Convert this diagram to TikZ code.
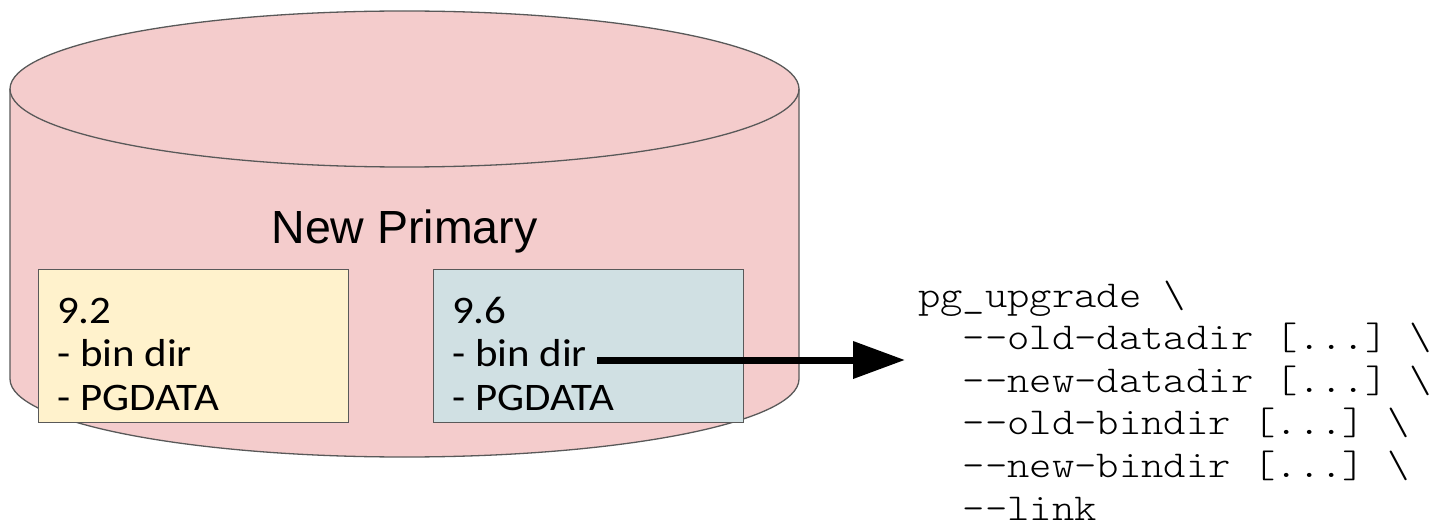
\documentclass[tikz,border=0pt]{standalone}
\usepackage{fontspec}
\setmainfont{Carlito}[FakeStretch=1.1]
\newfontfamily\headfont{Liberation Sans}
\newfontfamily\codefont{lmmonolt10-regular.otf}[FakeStretch=1.12]
\usetikzlibrary{arrows.meta}

\definecolor{drumfill}{HTML}{F4CCCC}
\definecolor{edgegray}{HTML}{595959}
\definecolor{oldfill}{HTML}{FFF2CC}
\definecolor{newfill}{HTML}{D0E0E3}

\tikzset{
  drumline/.style={draw=edgegray, line width=1.3pt},
  verbox/.style={draw=edgegray, line width=1.3pt, anchor=north west,
    minimum width=310pt, minimum height=153pt, inner sep=0pt},
  % multi-line nodes: the base anchor sits on the last line
  boxtext/.style={anchor=base west, inner sep=0pt, align=left,
    font=\fontsize{39}{43.5}\selectfont},
  headtext/.style={anchor=base, inner sep=0pt,
    font=\headfont\fontsize{46.5}{50}\selectfont},
  codetext/.style={anchor=base west, inner sep=0pt, align=left,
    font=\codefont\fontsize{38}{42.6}\selectfont\frenchspacing},
  flow/.style={line width=7pt, -{Triangle[length=52pt,width=36pt]}}
}

\begin{document}
\begin{tikzpicture}[x=1pt, y=-1pt]
  \useasboundingbox (0,0) rectangle (1433,532);

  % database drum
  \fill[drumfill] (10,89) -- (10,379)
    arc[start angle=180, end angle=360, x radius=394.5pt, y radius=78pt]
    -- (799,89)
    arc[start angle=0, end angle=180, x radius=394.5pt, y radius=78pt] -- cycle;
  \draw[drumline] (10,89) -- (10,379)
    arc[start angle=180, end angle=360, x radius=394.5pt, y radius=78pt]
    -- (799,89);
  \draw[drumline] (404.5,89) ellipse [x radius=394.5pt, y radius=78pt];

  \node[headtext] (title) at (404.5,243) {New Primary};

  % old and new installations
  \node[verbox, fill=oldfill] (oldver) at (37.5,269) {};
  \node[verbox, fill=newfill] (newver) at (432.5,269) {};
  \node[boxtext] (oldtxt) at (57,410) {9.2\\- bin dir\\- PGDATA};
  \node[boxtext] (newtxt) at (452,410) {9.6\\- bin dir\\- PGDATA};

  % upgrade command
  \node[codetext] (code) at (918,520) {pg\_upgrade \textbackslash\\
    \hphantom{xx}-{}-old-datadir [...] \textbackslash\\
    \hphantom{xx}-{}-new-datadir [...] \textbackslash\\
    \hphantom{xx}-{}-old-bindir [...] \textbackslash\\
    \hphantom{xx}-{}-new-bindir [...] \textbackslash\\
    \hphantom{xx}-{}-link};

  \coordinate (binstart) at (597,360);
  \draw[flow, shorten >=13pt] (binstart) -- (binstart -| code.west);
\end{tikzpicture}
\end{document}
